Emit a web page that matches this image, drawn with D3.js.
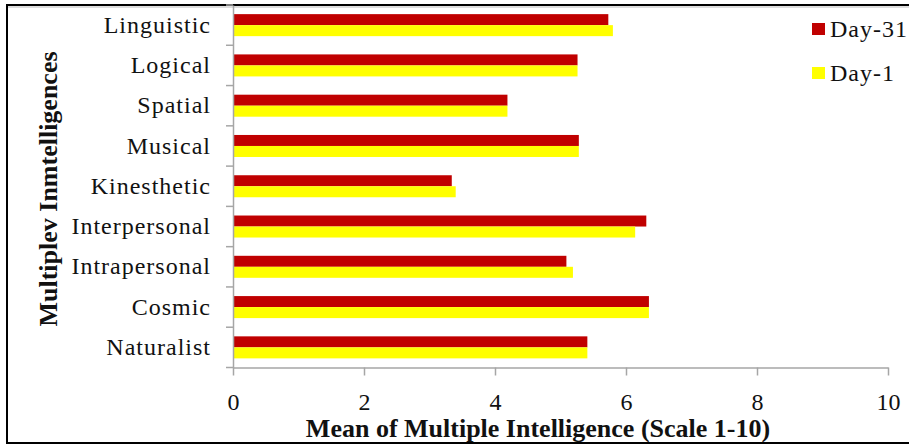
<!DOCTYPE html>
<html>
<head>
<meta charset="utf-8">
<script src="https://cdn.jsdelivr.net/npm/d3@7"></script>
<style>
  html, body { margin: 0; padding: 0; background: #fff; }
  svg { display: block; font-family: "Liberation Serif", "Times New Roman", serif; }
</style>
</head>
<body>
<svg id="chart" width="909" height="445"></svg>
<script>
// Mean score per intelligence type, Day-31 vs Day-1
const categories = ["Linguistic", "Logical", "Spatial", "Musical", "Kinesthetic",
                    "Interpersonal", "Intrapersonal", "Cosmic", "Naturalist"];
const seriesNames = ["Day-31", "Day-1"];
const day31 = [5.73, 5.26, 4.19, 5.28, 3.34, 6.31, 5.09, 6.35, 5.41];
const day1  = [5.80, 5.26, 4.19, 5.28, 3.40, 6.14, 5.19, 6.35, 5.41];
const xTicks = [0, 2, 4, 6, 8, 10];
const seriesColors = ["#C00000", "#FFFF00"];

const svg = d3.select("#chart");
const axisGray = "#A6A6A6";

// outer frame
svg.append("rect")
  .attr("x", 7).attr("y", 5).attr("width", 912).attr("height", 438)
  .attr("fill", "none").attr("stroke", "#000").attr("stroke-width", 2);
svg.append("line")
  .attr("x1", 8).attr("x2", 909).attr("y1", 7).attr("y2", 7)
  .attr("stroke", "#bbb").attr("stroke-width", 1);

const x = d3.scaleLinear().domain([0, 10]).range([233, 888]);
const y = d3.scaleBand().domain(categories).range([5, 367.5]).paddingInner(0).paddingOuter(0);
const yInner = d3.scaleBand().domain(seriesNames).range([0, y.bandwidth()])
  .paddingInner(0).paddingOuter(0.83);

const rows = categories.map((c, i) => ({ cat: c, vals: [day31[i], day1[i]] }));

// bars
const g = svg.append("g");
rows.forEach(r => {
  r.vals.forEach((v, j) => {
    g.append("rect")
      .attr("x", x(0))
      .attr("y", y(r.cat) + yInner(seriesNames[j]))
      .attr("width", x(v) - x(0))
      .attr("height", yInner.bandwidth())
      .attr("fill", seriesColors[j]);
  });
});

// x axis
const xAxis = svg.append("g")
  .attr("transform", `translate(0,${y.range()[1]})`)
  .call(d3.axisBottom(x).tickValues(xTicks).tickFormat(d3.format("d"))
    .tickSize(8).tickSizeOuter(0).tickPadding(17));
xAxis.select(".domain").attr("stroke", axisGray).attr("stroke-width", 1.5);
xAxis.selectAll(".tick line").attr("stroke", axisGray).attr("stroke-width", 1.5);
xAxis.selectAll(".tick text")
  .attr("font-family", "'Liberation Serif', 'Times New Roman', serif")
  .attr("font-size", 24).attr("fill", "#111");

// y axis: labels centred on bands, ticks on band boundaries
const yAxis = svg.append("g")
  .attr("transform", `translate(${x(0)},0)`)
  .call(d3.axisLeft(y).tickSize(0).tickPadding(22));
yAxis.select(".domain").attr("stroke", axisGray).attr("stroke-width", 1.5);
yAxis.selectAll(".tick text")
  .attr("font-family", "'Liberation Serif', 'Times New Roman', serif")
  .attr("font-size", 24).attr("letter-spacing", 1).attr("fill", "#111");

const bounds = categories.map(c => y(c)).concat([y.range()[1]]);
yAxis.selectAll("line.bound").data(bounds).join("line")
  .attr("class", "bound")
  .attr("x1", -7).attr("x2", 0)
  .attr("y1", d => d).attr("y2", d => d)
  .attr("stroke", axisGray).attr("stroke-width", 1.5);

// axis titles
svg.append("text")
  .attr("x", 538).attr("y", 437)
  .attr("text-anchor", "middle")
  .attr("font-weight", "bold").attr("font-size", 26).attr("fill", "#111")
  .text("Mean of Multiple Intelligence (Scale 1-10)");

svg.append("text")
  .attr("transform", "translate(57,189) rotate(-90)")
  .attr("text-anchor", "middle")
  .attr("font-weight", "bold").attr("font-size", 26).attr("fill", "#111")
  .text("Multiplev Inmtelligences");

// legend
const legend = svg.append("g");
seriesNames.forEach((s, i) => {
  const ly = 23 + i * 44;
  legend.append("rect")
    .attr("x", 812).attr("y", ly).attr("width", 13).attr("height", 12)
    .attr("fill", seriesColors[i]);
  legend.append("text")
    .attr("x", 830).attr("y", ly + 14)
    .attr("font-size", 24).attr("letter-spacing", 1).attr("fill", "#111")
    .text(s);
});
</script>
</body>
</html>
